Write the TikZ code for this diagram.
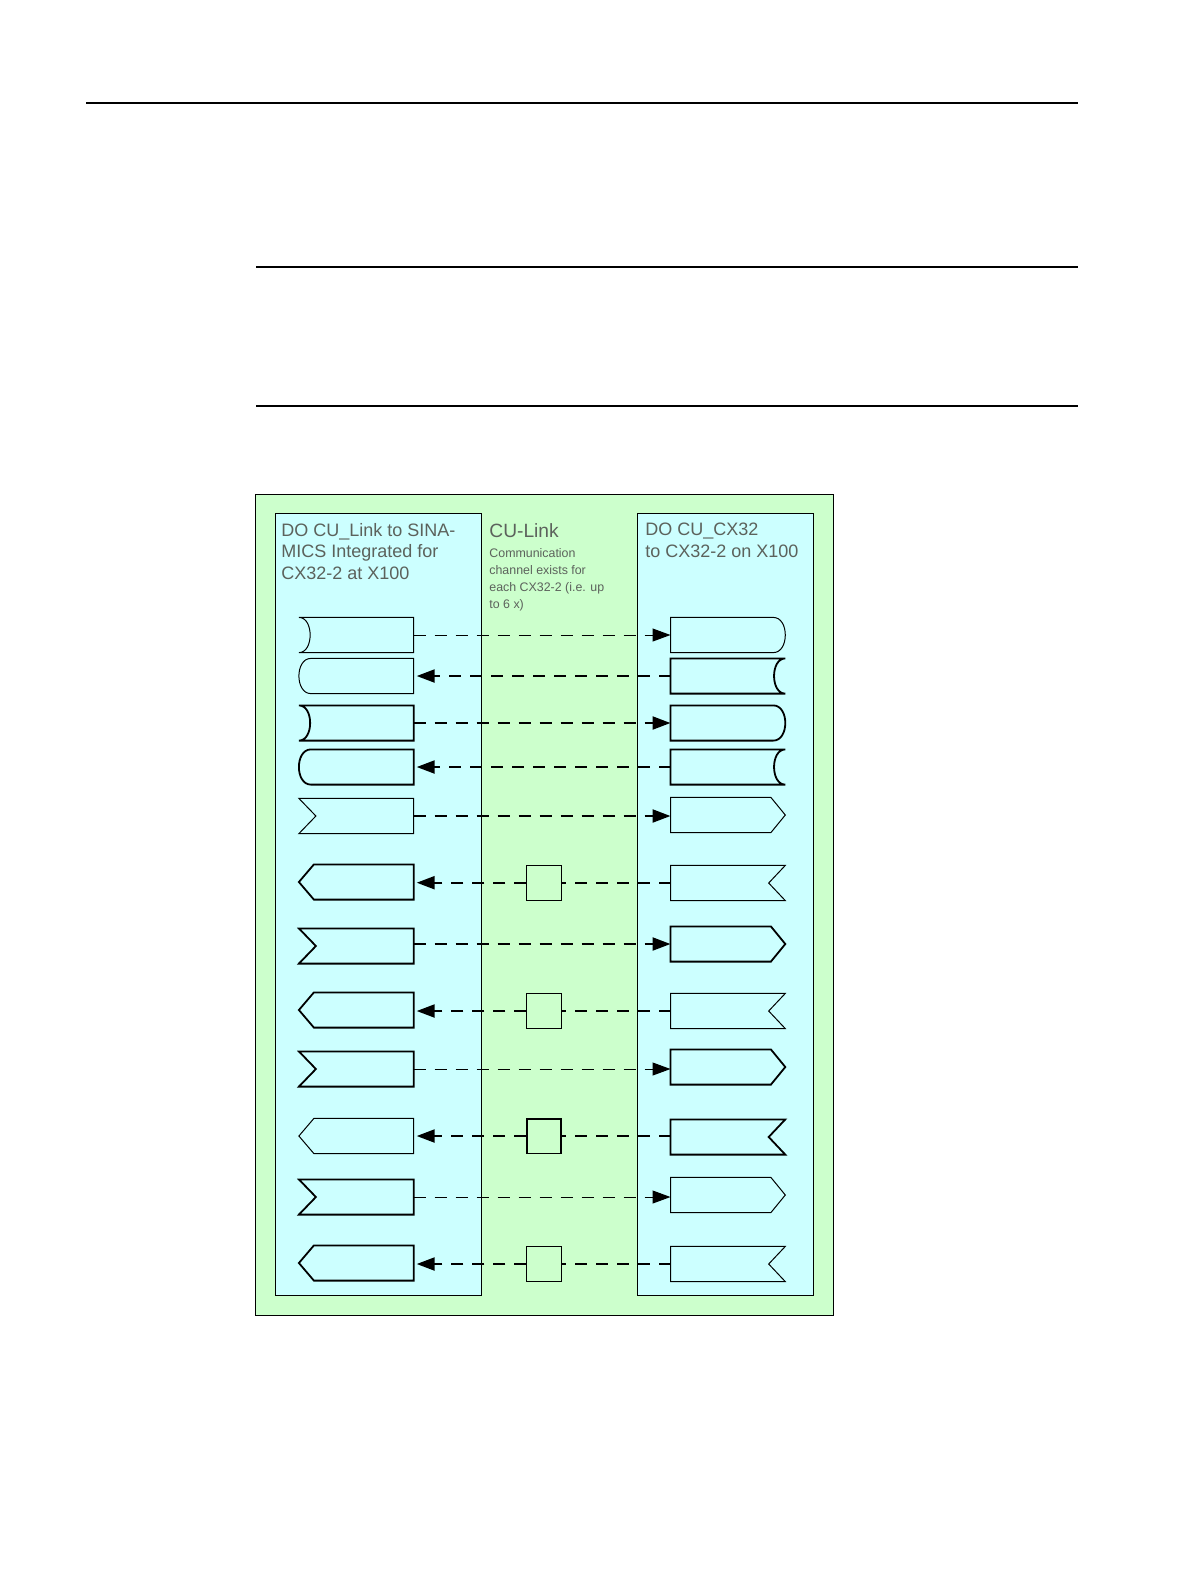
\documentclass[tikz,border=0pt]{standalone}
\usepackage{fontspec}
\setmainfont{Liberation Sans}
\usepackage{tikz}
\usetikzlibrary{positioning,calc,arrows.meta}
\definecolor{greenpale}{RGB}{204,255,204}
\definecolor{cyanpale}{RGB}{204,255,255}
\definecolor{inkgray}{RGB}{92,98,92}
\newcommand{\lpoint}[2][]{\draw[rim,#1] (#2.north east) -- ([xshift=7.5pt]#2.north west) -- (#2.west) -- ([xshift=7.5pt]#2.south west) -- (#2.south east) -- cycle;}
\newcommand{\lnotch}[2][]{\draw[rim,#1] (#2.north east) -- (#2.north west) -- ([xshift=8.5pt]#2.west) -- (#2.south west) -- (#2.south east) -- cycle;}
\newcommand{\lcave}[2][]{\draw[rim,#1] (#2.north east) -- (#2.north west) .. controls ([xshift=7.5pt]#2.north west) and ([xshift=7.5pt]#2.south west) .. (#2.south west) -- (#2.south east) -- cycle;}
\newcommand{\lround}[2][]{\draw[rim,#1] (#2.north east) -- ([xshift=6pt]#2.north west) .. controls ([xshift=-2pt]#2.north west) and ([xshift=-2pt]#2.south west) .. ([xshift=6pt]#2.south west) -- (#2.south east) -- cycle;}
\newcommand{\rpoint}[2][]{\draw[rim,#1] (#2.north west) -- ([xshift=-7.2pt]#2.north east) -- (#2.east) -- ([xshift=-7.2pt]#2.south east) -- (#2.south west) -- cycle;}
\newcommand{\rnotch}[2][]{\draw[rim,#1] (#2.north west) -- (#2.north east) -- ([xshift=-8.3pt]#2.east) -- (#2.south east) -- (#2.south west) -- cycle;}
\newcommand{\rcave}[2][]{\draw[rim,#1] (#2.north west) -- (#2.north east) .. controls ([xshift=-7.5pt]#2.north east) and ([xshift=-7.5pt]#2.south east) .. (#2.south east) -- (#2.south west) -- cycle;}
\newcommand{\rround}[2][]{\draw[rim,#1] (#2.north west) -- ([xshift=-6pt]#2.north east) .. controls ([xshift=2pt]#2.north east) and ([xshift=2pt]#2.south east) .. ([xshift=-6pt]#2.south east) -- (#2.south west) -- cycle;}

\begin{document}
\begin{tikzpicture}[x=0.5pt,y=-0.5pt,
        port/.style={minimum width=57pt,minimum height=17.2pt,inner sep=0pt},
        rim/.style={draw=black,fill=cyanpale,line width=0.5pt},
        heavy/.style={line width=0.9pt},
        chan/.style={draw,fill=greenpale,minimum width=17.2pt,minimum height=17.4pt,inner sep=0pt,line width=0.5pt},
        link/.style={dash pattern=on 6pt off 4.5pt,line width=1.1pt},
        weak/.style={line width=0.5pt},
        arr/.style={-{Triangle[length=9pt,width=6.5pt]}},
        title/.style={anchor=north west,inner sep=0pt,align=left,text=inkgray}]

\useasboundingbox (0,0) rectangle (1191,1587);

\draw[line width=0.8pt] (86,103) -- (1078,103);
\draw[line width=0.8pt] (256,267) -- (1078,267);
\draw[line width=0.8pt] (256,406) -- (1078,406);

\draw[fill=greenpale,line width=0.45pt] (255,494) rectangle (833,1315);
\draw[fill=cyanpale,line width=0.45pt] (275.5,513) rectangle (481.7,1295.3);
\draw[fill=cyanpale,line width=0.45pt] (637.3,513) rectangle (813,1295.3);

\node[title,font=\fontsize{9}{10.65}\selectfont] (cutitle) at (281,523) {DO CU\_Link to SINA-\\MICS Integrated for\\CX32-2 at X100};
\node[title,font=\fontsize{9.6}{11}\selectfont] (linktitle) at (489,523) {CU-Link};
\node[title,font=\fontsize{6.2}{8.45}\selectfont] (linknote) at (489,548) {Communication\\channel exists for\\each CX32-2 (i.e. up\\to 6 x)};
\node[title,font=\fontsize{9}{10.65}\selectfont] (cxtitle) at (645,523) {DO CU\_CX32\\to CX32-2 on X100};

\node[port] (l1) at (356.3,635) {};   \node[port] (r1) at (727.9,635) {};
\node[port] (l2) at (356.3,676) {};   \node[port] (r2) at (727.9,676) {};
\node[port] (l3) at (356.3,723) {};   \node[port] (r3) at (727.9,723) {};
\node[port] (l4) at (356.3,767) {};   \node[port] (r4) at (727.9,767) {};
\node[port] (l5) at (356.3,816) {};   \node[port] (r5) at (727.9,815) {};
\node[port] (l6) at (356.3,882) {};   \node[port] (r6) at (727.9,883) {};
\node[port] (l7) at (356.3,946) {};   \node[port] (r7) at (727.9,944) {};
\node[port] (l8) at (356.3,1010) {};  \node[port] (r8) at (727.9,1011) {};
\node[port] (l9) at (356.3,1069) {};  \node[port] (r9) at (727.9,1067) {};
\node[port] (l10) at (356.3,1136) {}; \node[port] (r10) at (727.9,1137) {};
\node[port] (l11) at (356.3,1197) {}; \node[port] (r11) at (727.9,1195) {};
\node[port] (l12) at (356.3,1263) {}; \node[port] (r12) at (727.9,1264) {};

\lcave{l1}          \rround{r1}
\lround{l2}         \rcave[heavy]{r2}
\lcave[heavy]{l3}   \rround[heavy]{r3}
\lround[heavy]{l4}  \rcave[heavy]{r4}
\lnotch{l5}         \rpoint{r5}
\lpoint[heavy]{l6}  \rnotch{r6}
\lnotch[heavy]{l7}  \rpoint[heavy]{r7}
\lpoint[heavy]{l8}  \rnotch{r8}
\lnotch[heavy]{l9}  \rpoint[heavy]{r9}
\lpoint{l10}        \rnotch[heavy]{r10}
\lnotch[heavy]{l11} \rpoint{r11}
\lpoint[heavy]{l12} \rnotch{r12}

\node[chan] (c6) at (544,882.7) {};
\node[chan] (c8) at (544,1011) {};
\node[chan,heavy] (c10) at (544,1136) {};
\node[chan] (c12) at (544,1264) {};

\draw[link,weak,arr] (l1.east) -- (r1.west);
\draw[link,arr,shorten >=1.5pt] (r2.west) -- (l2.east);
\draw[link,arr] (l3.east) -- (r3.west);
\draw[link,arr,shorten >=1.5pt] (r4.west) -- (l4.east);
\draw[link,arr] (l5.east) -- (r5.west |- l5.east);
\draw[link] (r6.west |- c6.east) -- (c6.east);
\draw[link,arr,shorten >=1.5pt] (c6.west) -- (l6.east |- c6.west);
\draw[link,arr] (l7.east |- r7.west) -- (r7.west);
\draw[link] (r8.west |- c8.east) -- (c8.east);
\draw[link,arr,shorten >=1.5pt] (c8.west) -- (l8.east |- c8.west);
\draw[link,weak,arr] (l9.east) -- (r9.west |- l9.east);
\draw[link] (r10.west |- c10.east) -- (c10.east);
\draw[link,arr,shorten >=1.5pt] (c10.west) -- (l10.east |- c10.west);
\draw[link,weak,arr] (l11.east) -- (r11.west |- l11.east);
\draw[link] (r12.west |- c12.east) -- (c12.east);
\draw[link,arr,shorten >=1.5pt] (c12.west) -- (l12.east |- c12.west);

\end{tikzpicture}
\end{document}
